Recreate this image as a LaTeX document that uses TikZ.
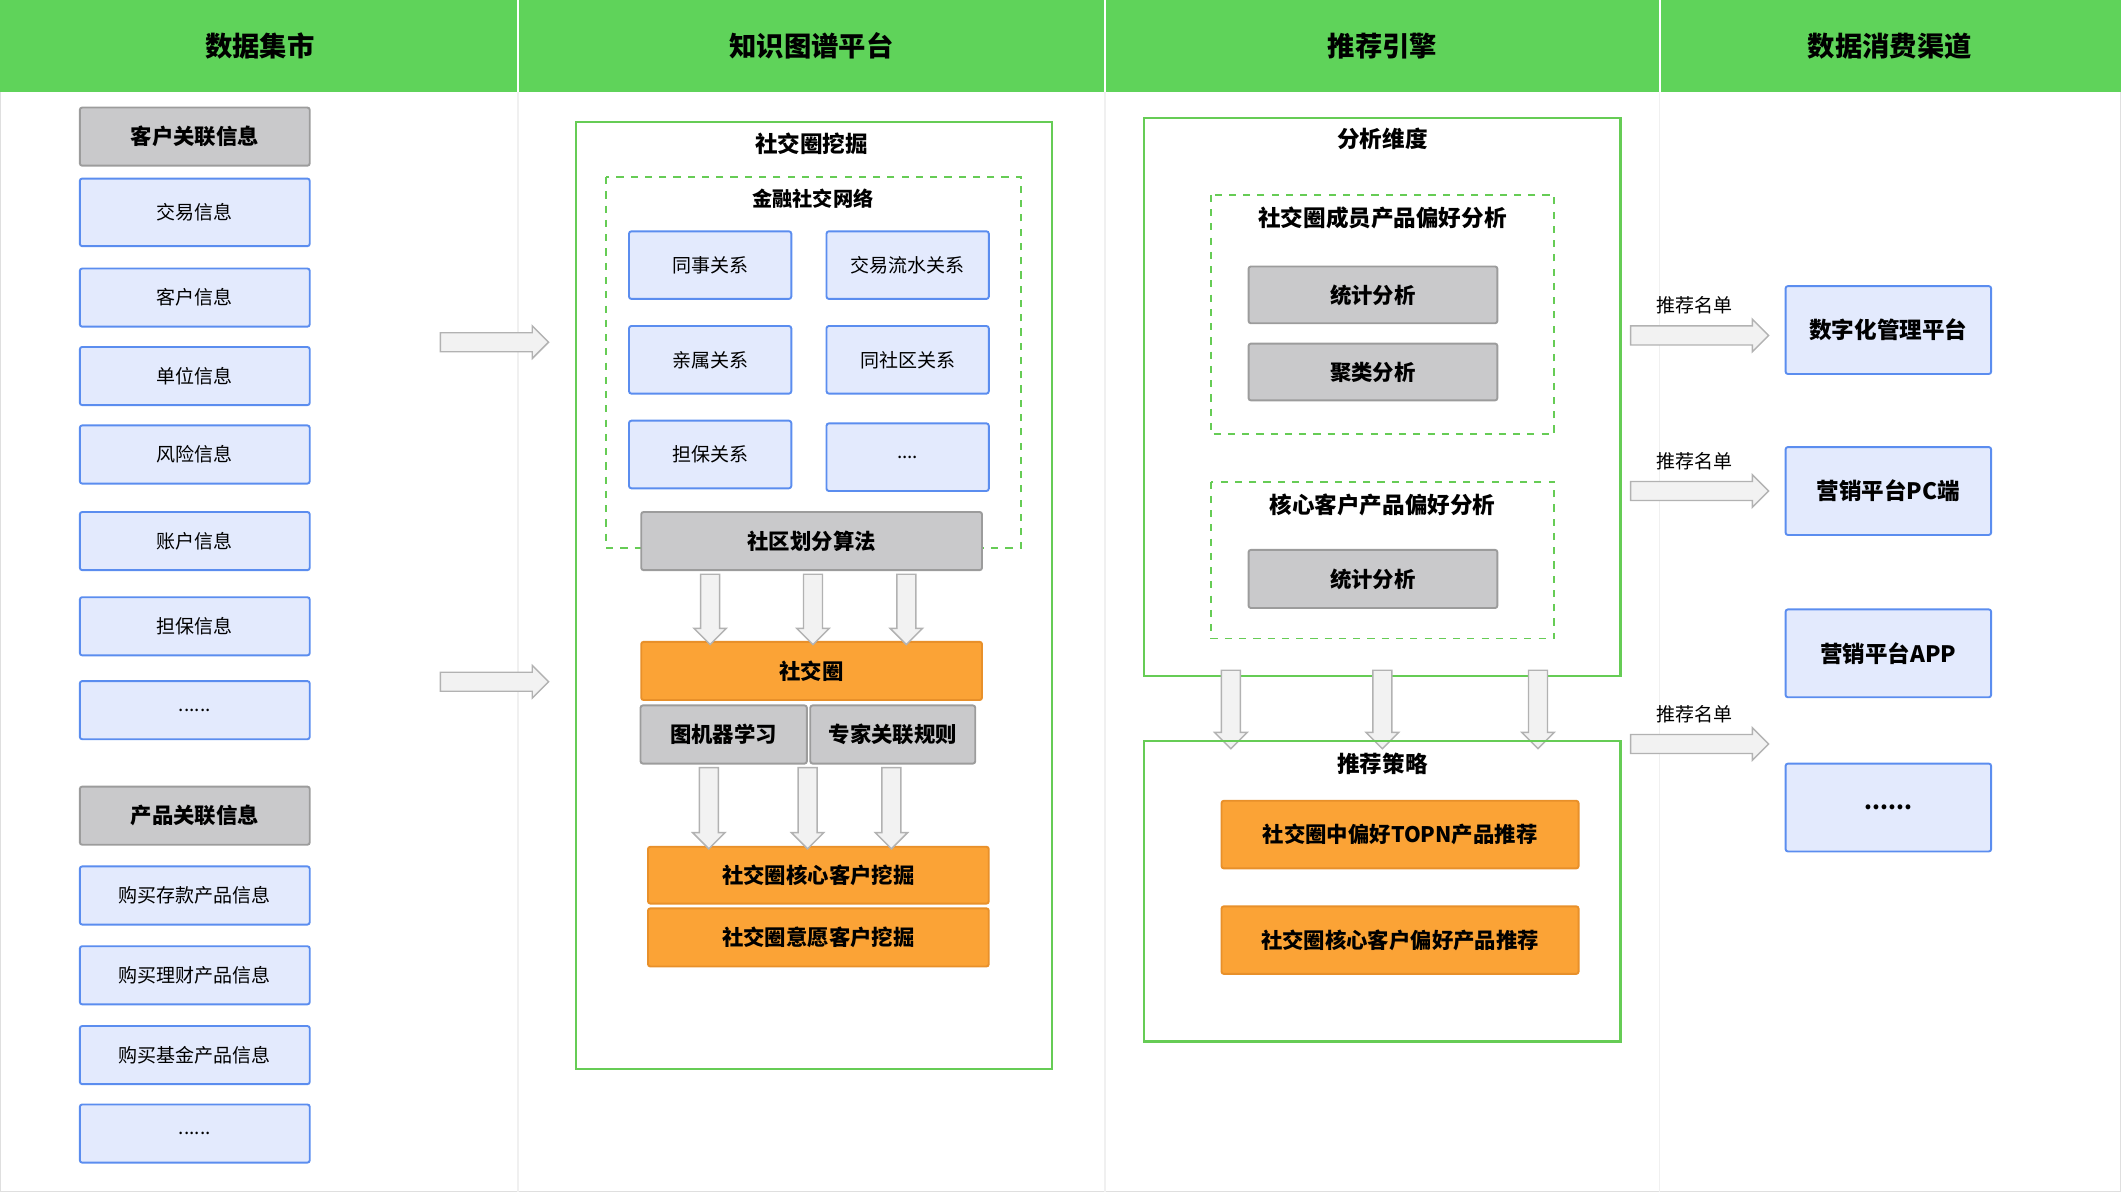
\documentclass[tikz,border=0pt]{standalone}
\usepackage{fontspec}
\setmainfont{Noto Sans CJK SC}
\usetikzlibrary{shapes.arrows,positioning}
\definecolor{hdgreen}{HTML}{5FD35A}
\definecolor{lgreen}{HTML}{66CC55}
\definecolor{bfill}{HTML}{E3EAFD}
\definecolor{bdraw}{HTML}{5B8DEF}
\definecolor{gfill}{HTML}{C9C9CB}
\definecolor{gdraw}{HTML}{9C9C9C}
\definecolor{ofill}{HTML}{FBA336}
\definecolor{odraw}{HTML}{E8902A}
\tikzset{
  base/.style={rectangle,rounded corners=1pt,line width=0.8pt,inner sep=0pt},
  blue box/.style={base,draw=bdraw,fill=bfill,font=\fontsize{8}{9}\selectfont},
  gray box/.style={base,draw=gdraw,fill=gfill,font=\fontsize{9}{10}\selectfont\bfseries},
  orange box/.style={base,draw=odraw,fill=ofill,font=\fontsize{9}{10}\selectfont\bfseries},
  col1/.style={minimum width=3.4cm,minimum height=0.86cm},
  frame/.style={draw=lgreen,line width=0.9pt},
  dframe/.style={draw=lgreen,dashed,line width=0.8pt},
  title/.style={font=\fontsize{9.5}{11}\selectfont\bfseries},
  header/.style={font=\fontsize{11.5}{13}\selectfont\bfseries},
  arr/.style={single arrow,draw=gray!60,fill=gray!10,line width=0.6pt,
    minimum height=#1,single arrow head extend=0.1cm,
    text height=0pt,text depth=0pt,text width=0pt},
  flow/.style={arr=#1,inner xsep=0pt,inner ysep=0.13cm},
  down/.style={arr=#1,inner xsep=0.13cm,inner ysep=0pt,shape border rotate=270},
  lab/.style={font=\fontsize{8}{9}\selectfont}
}
\begin{document}
\begin{tikzpicture}[x=0.02cm,y=-0.02cm]
  \useasboundingbox (0,0) rectangle (1568,881);
  \draw[gray!25,line width=1pt] (0,0) rectangle (1568,881);
  \fill[hdgreen] (0,0) rectangle (1568,68);
  \foreach \x in {383,817,1227}{
    \draw[white,line width=1pt] (\x,0) -- (\x,68);
    \draw[gray!12,line width=0.6pt] (\x,68) -- (\x,881);
  }
  \node[header] (h1) at (192,34) {数据集市};
  \node[header] (h2) at (600,34) {知识图谱平台};
  \node[header] (h3) at (1022,34) {推荐引擎};
  \node[header] (h4) at (1397,34) {数据消费渠道};
  % data mart
  \node[gray box,col1] (khgl) at (144,101) {客户关联信息};
  \node[blue box,col1,minimum height=1cm] (jyxx) at (144,157) {交易信息};
  \node[blue box,col1] (khxx) at (144,220) {客户信息};
  \node[blue box,col1] (dwxx) at (144,278) {单位信息};
  \node[blue box,col1] (fxxx) at (144,336) {风险信息};
  \node[blue box,col1] (zhxx) at (144,400) {账户信息};
  \node[blue box,col1] (dbxx) at (144,463) {担保信息};
  \node[blue box,col1] (more1) at (144,525) {......};
  \node[gray box,col1] (cpgl) at (144,603) {产品关联信息};
  \node[blue box,col1] (ckcp) at (144,662) {购买存款产品信息};
  \node[blue box,col1] (lccp) at (144,721) {购买理财产品信息};
  \node[blue box,col1] (jjcp) at (144,780) {购买基金产品信息};
  \node[blue box,col1] (more2) at (144,838) {......};
  \node[flow=1.6cm] (a1) at (362,253) {};
  \node[flow=1.6cm] (a2) at (362,504) {};
  % knowledge graph
  \draw[frame] (426,90) rectangle (778,790);
  \node[title] (sjq) at (600,106) {社交圈挖掘};
  \draw[dframe] (448,131) rectangle (755,405);
  \node[title,font=\fontsize{8.5}{10}\selectfont\bfseries] (jrsj) at (601,147) {金融社交网络};
  \tikzset{kg/.style={blue box,minimum width=2.4cm,minimum height=1cm}}
  \node[kg] (tsgx) at (525,196) {同事关系};
  \node[kg] (lsgx) at (671,196) {交易流水关系};
  \node[kg] (qsgx) at (525,266) {亲属关系};
  \node[kg] (sqgx) at (671,266) {同社区关系};
  \node[kg] (dbgx) at (525,336) {担保关系};
  \node[kg] (more3) at (671,338) {....};
  \node[gray box,minimum width=5.04cm,minimum height=0.86cm] (sqhf) at (600,400) {社区划分算法};
  \node[orange box,minimum width=5.04cm,minimum height=0.86cm] (sjqo) at (600,496) {社交圈};
  \node[gray box,minimum width=2.46cm,minimum height=0.86cm] (tjq) at (535,543) {图机器学习};
  \node[gray box,minimum width=2.44cm,minimum height=0.86cm] (zjgz) at (660,543) {专家关联规则};
  \node[orange box,minimum width=5.04cm,minimum height=0.84cm] (hxwj) at (605,647) {社交圈核心客户挖掘};
  \node[orange box,minimum width=5.04cm,minimum height=0.86cm] (yywj) at (605,693) {社交圈意愿客户挖掘};
  \foreach \x in {525,601,670} \node[down=1.04cm] at (\x,447) {};
  \foreach \x in {524,597,659} \node[down=1.2cm] at (\x,594) {};
  % recommendation engine
  \draw[frame] (846,87) rectangle (1198,500);
  \node[title] (fxwd) at (1022,103) {分析维度};
  \draw[dframe] (895,144) rectangle (1149,321);
  \node[title] (cypf) at (1022,161) {社交圈成员产品偏好分析};
  \node[gray box,minimum width=3.68cm,minimum height=0.84cm] (tj1) at (1015,218) {统计分析};
  \node[gray box,minimum width=3.68cm,minimum height=0.84cm] (jl1) at (1015,275) {聚类分析};
  \draw[dframe] (895,356) rectangle (1149,472);
  \node[title] (hxpf) at (1022,373) {核心客户产品偏好分析};
  \node[gray box,minimum width=3.68cm,minimum height=0.86cm] (tj2) at (1015,428) {统计分析};
  \foreach \x in {910,1022,1137} \node[down=1.16cm] at (\x,521) {};
  \draw[frame] (846,548) rectangle (1198,770);
  \node[title] (tjcl) at (1022,565) {推荐策略};
  \node[orange box,minimum width=5.28cm,minimum height=1cm] (topn) at (1035,617) {社交圈中偏好TOPN产品推荐};
  \node[orange box,minimum width=5.28cm,minimum height=1cm] (hxtj) at (1035,695) {社交圈核心客户偏好产品推荐};
  % channels
  \tikzset{ch/.style={blue box,minimum width=3.04cm,minimum height=1.3cm,font=\fontsize{9.5}{11}\selectfont\bfseries}}
  \node[ch] (szh) at (1396,244) {数字化管理平台};
  \node[ch] (pc) at (1396,363) {营销平台PC端};
  \node[ch] (app) at (1396,483) {营销平台APP};
  \node[ch] (more4) at (1396,597) {......};
  \foreach \y/\n in {248/r1,363/r2,550/r3}{
    \node[flow=2.04cm] (\n) at (1253,\y) {};
    \node[lab,above=0.04cm of \n] {推荐名单};
  }
\end{tikzpicture}
\end{document}
